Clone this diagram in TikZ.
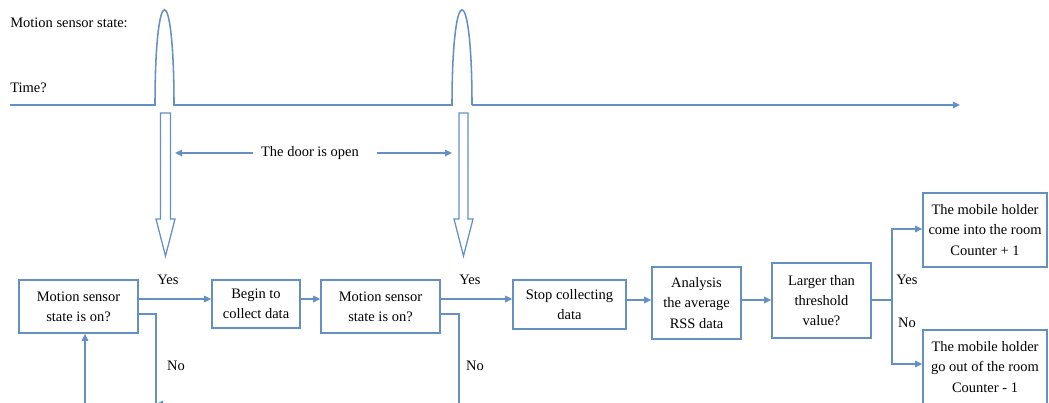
\documentclass[tikz,border=0pt]{standalone}
\usepackage{fontspec}
\setmainfont{Liberation Serif}
\usetikzlibrary{arrows.meta,calc}
\definecolor{bl}{RGB}{100,144,196}
\begin{document}
\begin{tikzpicture}[x=0.025cm,y=-0.025cm,
  box/.style={draw=bl,line width=1.1pt,align=center,inner sep=0pt,fill=white,
    font=\fontsize{10.3}{14.5}\selectfont},
  sz/.style 2 args={minimum width=#1*0.025cm,minimum height=#2*0.025cm},
  ln/.style={draw=bl,line width=1.1pt},
  arr/.style={ln,-{Triangle[length=5pt,width=4.5pt]}},
  hollow/.style={draw=bl,line width=0.9pt,line join=miter},
  lbl/.style={font=\fontsize{10.3}{12}\selectfont,inner sep=0pt}]
\useasboundingbox (0,0) rectangle (1049,402);

% top texts
\node[lbl,anchor=west] (mss) at (10,23) {Motion sensor state:};
\node[lbl,anchor=west] (time) at (10,88) {Time?};

% time line with pulses
\coordinate (t0) at (10,105);
\coordinate (p1a) at (155,105);
\coordinate (p1b) at (174,105);
\coordinate (p2a) at (452,105);
\coordinate (p2b) at (472,105);
\coordinate (tend) at (960,105);
\draw[ln] (t0) -- (p1a) .. controls (155,-22) and (174,-22) .. (p1b) -- (p2a)
  .. controls (452,-22) and (472,-22) .. (p2b);
\draw[arr] (p2b) -- (tend);

% hollow arrows
\draw[hollow] (160.5,113) -- (170.5,113) -- (170.5,219) -- (175,219) -- (165.5,256)
  -- (156,219) -- (160.5,219) -- cycle;
\draw[hollow] (459,113) -- (468,113) -- (468,219) -- (473,219) -- (463.5,256)
  -- (454,219) -- (459,219) -- cycle;

% door open
\node[lbl] (door) at (310,153) {The door is open};
\coordinate (dl) at (175,153);
\coordinate (dr) at (452,153);
\draw[arr] (door.west) ++(-8,0) -- (dl);
\draw[arr] (door.east) ++(18,0) -- (dr);

% boxes
\node[box,sz={119}{53}] (b1) at (78.5,306.5) {Motion sensor\\state is on?};
\node[box,sz={88}{48}] (b2) at (256,304) {Begin to\\collect data};
\node[box,sz={119}{53}] (b3) at (380.5,306.5) {Motion sensor\\state is on?};
\node[box,sz={113}{49}] (b4) at (569.5,304.5) {Stop collecting\\data};
\node[box,sz={89}{72}] (b5) at (696.5,303) {Analysis\\the average\\RSS data};
\node[box,sz={99}{75}] (b6) at (821.5,300.5) {Larger than\\threshold\\value?};
\node[box,sz={124}{74}] (b7) at (985,230) {The mobile holder\\come into the room\\Counter + 1};
\node[box,sz={124}{74}] (b8) at (985,367) {The mobile holder\\go out of the room\\Counter - 1};

% main flow
\coordinate (y1) at (0,299);
\coordinate (y2) at (0,300);
\draw[arr] (b1.east |- y1) -- (b2.west |- y1);
\draw[arr] (b2.east |- y1) -- (b3.west |- y1);
\draw[arr] (b3.east |- y1) -- (b4.west |- y1);
\draw[arr] (b4.east |- y2) -- (b5.west |- y2);
\draw[arr] (b5.east |- y2) -- (b6.west |- y2);

% branch
\coordinate (br) at (892,300);
\coordinate (yb7) at (0,229);
\coordinate (yb8) at (0,364);
\draw[ln] (b6.east |- br) -- (br);
\draw[arr] (br) -- (br |- yb7) -- (b7.west |- yb7);
\draw[arr] (br) -- (br |- yb8) -- (b8.west |- yb8);

% labels
\node[lbl] (yes1) at (168,280) {Yes};
\node[lbl] (yes2) at (470,280) {Yes};
\node[lbl] (yes3) at (907,280) {Yes};
\node[lbl] (no1) at (176,366) {No};
\node[lbl] (no2) at (475,366) {No};
\node[lbl] (no3) at (907,323) {No};

% No loops
\coordinate (n1) at (156,314);
\coordinate (n2) at (459,314);
\coordinate (bot1) at (156,404);
\coordinate (bot2) at (459,404);
\coordinate (botL) at (85,410);
\draw[ln] (b1.east |- n1) -- (n1) -- (156,410);
\draw[ln] (b3.east |- n2) -- (n2) -- (bot2);
\draw[arr] (bot2) -- (bot1);
\draw[arr] (botL) -- (b1.south -| botL);
\end{tikzpicture}
\end{document}
